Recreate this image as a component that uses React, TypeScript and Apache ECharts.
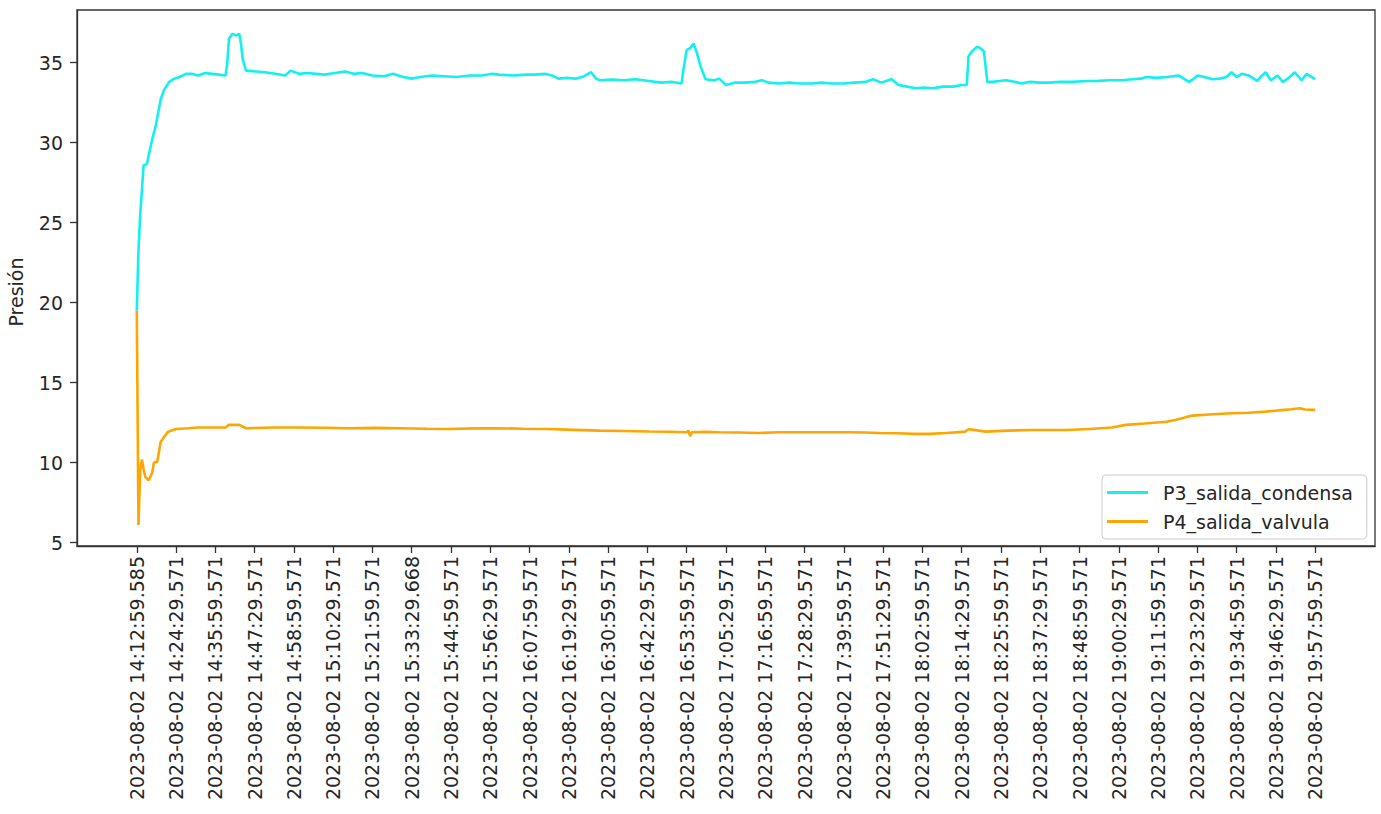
import { useEffect, useRef } from "react";
import * as echarts from "echarts";

// Sample timestamps shown under the x axis (one label every TICK_STEP samples)
const tickLabels = [
  "2023-08-02 14:12:59.585",
  "2023-08-02 14:24:29.571",
  "2023-08-02 14:35:59.571",
  "2023-08-02 14:47:29.571",
  "2023-08-02 14:58:59.571",
  "2023-08-02 15:10:29.571",
  "2023-08-02 15:21:59.571",
  "2023-08-02 15:33:29.668",
  "2023-08-02 15:44:59.571",
  "2023-08-02 15:56:29.571",
  "2023-08-02 16:07:59.571",
  "2023-08-02 16:19:29.571",
  "2023-08-02 16:30:59.571",
  "2023-08-02 16:42:29.571",
  "2023-08-02 16:53:59.571",
  "2023-08-02 17:05:29.571",
  "2023-08-02 17:16:59.571",
  "2023-08-02 17:28:29.571",
  "2023-08-02 17:39:59.571",
  "2023-08-02 17:51:29.571",
  "2023-08-02 18:02:59.571",
  "2023-08-02 18:14:29.571",
  "2023-08-02 18:25:59.571",
  "2023-08-02 18:37:29.571",
  "2023-08-02 18:48:59.571",
  "2023-08-02 19:00:29.571",
  "2023-08-02 19:11:59.571",
  "2023-08-02 19:23:29.571",
  "2023-08-02 19:34:59.571",
  "2023-08-02 19:46:29.571",
  "2023-08-02 19:57:59.571",
];
const TICK_STEP = 23;
const yTicks = [5, 10, 15, 20, 25, 30, 35];

// P3_salida_condensa: sample number and pressure
const p3Index = [
  0, 1, 2, 3, 4, 5, 6, 7, 9, 11, 14, 16, 19, 22, 25, 29, 32, 36, 40, 44, 48, 52,
  53, 54, 56, 58, 60, 61, 62, 64, 70, 75, 81, 87, 90, 95, 100, 105, 110, 116, 122,
  127, 132, 138, 145, 150, 156, 161, 166, 173, 180, 187, 195, 202, 208, 212, 220,
  228, 233, 239, 243, 247, 252, 257, 262, 266, 269, 271, 278, 285, 292, 300, 307,
  313, 319, 320, 322, 324, 326, 328, 330, 333, 338, 341, 343, 345, 350, 356, 362,
  366, 370, 376, 382, 388, 395, 401, 407, 414, 420, 427, 431, 436, 440, 442, 446,
  451, 456, 461, 466, 472, 478, 483, 486, 487, 489, 492, 494, 496, 498, 501, 505,
  509, 514, 518, 523, 529, 534, 541, 548, 556, 563, 570, 577, 583, 588, 591, 597,
  603, 610, 613, 616, 619, 621, 625, 630, 634, 638, 641, 644, 647, 651, 656, 658,
  661, 664, 668, 671, 674, 678, 682, 685, 688, 690,
];
const p3Values = [
  19.5, 23.3, 25.5, 27.0, 28.6, 28.6, 28.7, 29.2, 30.2, 31.0, 32.7, 33.3, 33.8,
  34.0, 34.1, 34.3, 34.3, 34.2, 34.35, 34.3, 34.25, 34.2, 35.0, 36.5, 36.8, 36.7,
  36.8, 36.2, 35.2, 34.5, 34.45, 34.4, 34.3, 34.2, 34.5, 34.3, 34.35, 34.3, 34.25,
  34.35, 34.45, 34.3, 34.35, 34.2, 34.15, 34.3, 34.1, 34.0, 34.1, 34.2, 34.15, 34.1,
  34.2, 34.2, 34.3, 34.25, 34.2, 34.25, 34.25, 34.3, 34.2, 34.0, 34.05, 34.0, 34.15,
  34.4, 34.0, 33.9, 33.95, 33.9, 33.96, 33.85, 33.75, 33.8, 33.7, 34.5, 35.8, 35.9,
  36.2, 35.6, 34.8, 33.96, 33.9, 34.0, 33.8, 33.6, 33.75, 33.75, 33.8, 33.9, 33.75,
  33.7, 33.75, 33.7, 33.7, 33.75, 33.7, 33.7, 33.75, 33.8, 33.96, 33.75, 33.9, 33.96,
  33.6, 33.5, 33.4, 33.45, 33.4, 33.5, 33.5, 33.6, 33.6, 35.4, 35.7, 36.0, 35.9, 35.7,
  33.8, 33.8, 33.85, 33.9, 33.8, 33.7, 33.8, 33.75, 33.75, 33.8, 33.8, 33.85, 33.86,
  33.9, 33.9, 33.96, 34.0, 34.1, 34.05, 34.1, 34.2, 34.0, 33.8, 34.0, 34.2, 34.1,
  33.96, 34.0, 34.1, 34.4, 34.1, 34.3, 34.2, 33.86, 34.1, 34.4, 33.9, 34.2, 33.8,
  34.0, 34.4, 33.9, 34.3, 34.1, 33.96,
];

// P4_salida_valvula: sample number and pressure
const p4Index = [
  0, 1, 2, 3, 4, 5, 7, 9, 10, 12, 14, 16, 18, 20, 23, 30, 36, 45, 52, 54, 60, 64, 80,
  95, 110, 124, 140, 154, 170, 183, 198, 212, 226, 241, 256, 271, 285, 300, 312,
  322, 323, 324, 325, 333, 341, 352, 364, 376, 388, 402, 417, 426, 435, 446, 455,
  464, 474, 485, 487, 490, 497, 510, 524, 535, 544, 558, 571, 579, 590, 603, 608,
  613, 618, 630, 641, 651, 661, 670, 676, 681, 684, 688, 690,
];
const p4Values = [
  19.5, 6.1, 9.5, 10.2, 9.6, 9.1, 8.9, 9.35, 10.0, 10.06, 11.3, 11.6, 11.9, 12.0,
  12.1, 12.15, 12.2, 12.2, 12.2, 12.36, 12.36, 12.15, 12.2, 12.2, 12.18, 12.15,
  12.17, 12.15, 12.12, 12.1, 12.14, 12.15, 12.12, 12.1, 12.05, 12.0, 11.98, 11.95,
  11.93, 11.9, 12.0, 11.65, 11.9, 11.92, 11.9, 11.88, 11.85, 11.9, 11.9, 11.9, 11.9,
  11.88, 11.85, 11.84, 11.8, 11.8, 11.85, 11.94, 12.09, 12.05, 11.94, 12.0, 12.04,
  12.04, 12.04, 12.1, 12.2, 12.36, 12.45, 12.56, 12.67, 12.8, 12.94, 13.02, 13.09,
  13.12, 13.19, 13.28, 13.34, 13.4, 13.32, 13.3, 13.3,
];

const FONT = "DejaVu Sans";
const INK = "#262626";
const SPINE = "#333333";

export default function App() {
  const ref = useRef<HTMLDivElement>(null);

  useEffect(() => {
    if (!ref.current) return;
    const chart = echarts.init(ref.current, null, { renderer: "svg" });
    const xTicks = tickLabels.map((_, k) => k * TICK_STEP);

    chart.setOption({
      animation: false,
      backgroundColor: "#ffffff",
      grid: {
        left: 77,
        right: 6,
        top: 10,
        bottom: 268,
        show: true,
        borderColor: SPINE,
        borderWidth: 1.3,
        backgroundColor: "transparent",
      },
      xAxis: {
        type: "value",
        min: -35,
        max: 725,
        axisLine: { show: true, onZero: false, lineStyle: { color: SPINE, width: 1.3 } },
        axisTick: {
          show: true,
          customValues: xTicks,
          length: 7,
          lineStyle: { color: SPINE, width: 1.3 },
        },
        axisLabel: {
          customValues: xTicks,
          rotate: 90,
          margin: 10,
          fontFamily: FONT,
          fontSize: 19,
          color: INK,
          formatter: (v: number) => tickLabels[Math.round(v / TICK_STEP)] ?? "",
        },
        splitLine: { show: false },
      },
      yAxis: {
        type: "value",
        min: 4.79,
        max: 38.29,
        axisLine: { show: true, onZero: false, lineStyle: { color: SPINE, width: 1.3 } },
        axisTick: {
          show: true,
          customValues: yTicks,
          length: 7,
          lineStyle: { color: SPINE, width: 1.3 },
        },
        axisLabel: {
          customValues: yTicks,
          margin: 14,
          fontFamily: FONT,
          fontSize: 19,
          color: INK,
        },
        splitLine: { show: false },
      },
      legend: {
        orient: "vertical",
        left: 1102,
        top: 475,
        padding: [7, 14, 7, 5],
        itemGap: 8,
        itemWidth: 41,
        itemHeight: 3,
        icon: "rect",
        borderColor: "#cccccc",
        borderWidth: 1,
        borderRadius: 4,
        backgroundColor: "rgba(255,255,255,0.8)",
        textStyle: {
          fontFamily: FONT,
          fontSize: 19,
          color: INK,
          lineHeight: 21,
          padding: [0, 0, 0, 10],
        },
        data: ["P3_salida_condensa", "P4_salida_valvula"],
      },
      graphic: [
        {
          type: "text",
          x: 16,
          y: 292,
          rotation: Math.PI / 2,
          style: {
            text: "Presión",
            fontFamily: FONT,
            fontSize: 19,
            fill: INK,
            textAlign: "center",
            textVerticalAlign: "middle",
          },
        },
      ],
      series: [
        {
          name: "P3_salida_condensa",
          type: "line",
          showSymbol: false,
          symbol: "none",
          color: "#12f0f0",
          lineStyle: { width: 2.6, color: "#12f0f0" },
          data: p3Index.map((x, k) => [x, p3Values[k]]),
        },
        {
          name: "P4_salida_valvula",
          type: "line",
          showSymbol: false,
          symbol: "none",
          color: "#ffa500",
          lineStyle: { width: 2.6, color: "#ffa500" },
          data: p4Index.map((x, k) => [x, p4Values[k]]),
        },
      ],
    });

    return () => chart.dispose();
  }, []);

  return (
    <div
      ref={ref}
      style={{ position: "fixed", left: 0, top: 0, width: 1381, height: 814 }}
    />
  );
}
